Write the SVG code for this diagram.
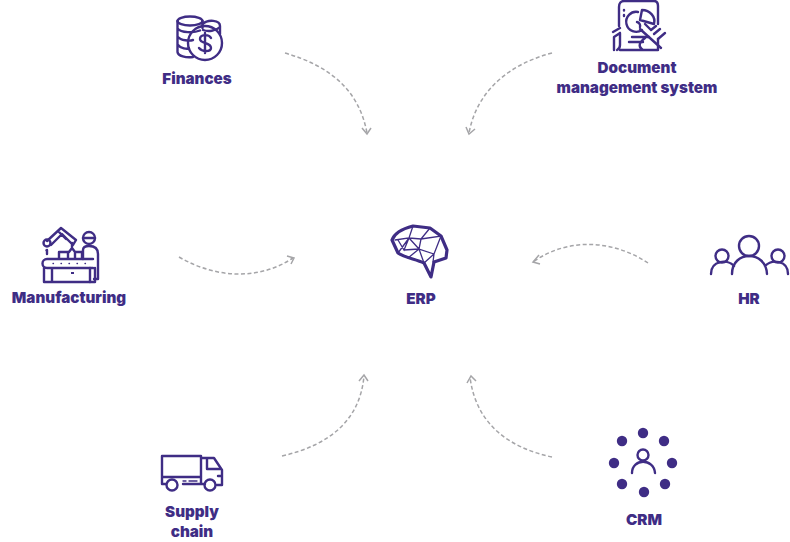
<svg xmlns="http://www.w3.org/2000/svg" width="790" height="542" viewBox="0 0 790 542">
<style>
text{font-family:"Inter","Open Sans","Liberation Sans",sans-serif;font-weight:900;font-size:15.200px;fill:#3f2d85;text-anchor:middle}
.i{fill:none;stroke:#3f2d85;stroke-width:2.400;stroke-linecap:round;stroke-linejoin:round}
.t{fill:none;stroke:#3f2d85;stroke-width:1.300;stroke-linecap:round}
.f{fill:#3f2d85}
.c{fill:none;stroke:#a5a5a8;stroke-width:1.500;stroke-dasharray:4 2.500}
.a{fill:none;stroke:#a5a5a8;stroke-width:1.500}
</style>
<g id="connectors">
<path class="c" d="M285 53C330 66 359 90 367 133"/><path class="a" d="M362 128L367 134L371 128"/>
<path class="c" d="M552 53C510 64 477 90 469 133"/><path class="a" d="M466 127L469 134L475 129"/>
<path class="c" d="M179 257C215 278 258 281 293 258"/><path class="a" d="M287 256L294 258L291 264"/>
<path class="c" d="M648 263C615 241 570 236 533 262"/><path class="a" d="M539 255L533 262L540 264"/>
<path class="c" d="M282 456C330 445 360 420 364 376"/><path class="a" d="M359 381L364 375L368 381"/>
<path class="c" d="M552 457C510 448 476 425 470 377"/><path class="a" d="M467 383L471 376L476 381"/>
</g>
<g id="finances">
<ellipse class="i" cx="190" cy="21" rx="12.500" ry="4.500"/>
<path class="i" d="M177.500 21V52C178 56 186 58 193 57M202.500 21V28M177.500 28.500C181 33 194 33 200 30.500M177.500 36.500C181 41 190 41 193 40M177.500 44.500C181 49 187 49 189 48.500"/>
<path class="i" d="M202.500 24C208 19 220 20 220 26V34M203 30C208 32 216 31 220 27"/>
<circle class="i" cx="205" cy="43" r="17"/>
<path class="i" d="M211 38C209 34 200 34 200 39C200 44 211 42 211 48C211 52 202 52 199 48M205 33V53"/>
<text x="197" y="84">Finances</text>
</g>
<g id="document-management-system">
<path class="i" d="M619 26V7C619 3 621 1 624 1H654C657 1 658 3 658 6V24M624 10V10.500M624 15V16"/>
<path class="i" d="M620 50H658M658 50V39M620 33V45C620 48 619 49 617 50M620 33L614 37V50M620 28L613 32M632 37H649M629 42H643M643 50C637 46 640 42 645 38"/>
<path class="i" d="M638 12A10 10 0 1 0 642 30M642 10L640 20L654 24C656 17 650 10 642 10ZM637 22A4 4 0 0 1 640 27M640 29L661 48M645 24L651 30M651 30L656 26M654 34L660 29M658 39L665 33"/>
<text x="637" y="73">Document</text><text x="637" y="93">management system</text>
</g>
<g id="manufacturing">
<path class="i" d="M47 241L61 228L76 240L73 245L62 234L51 245M58 231L66 239M72 243V248M69 252L72 248L75 252M47 250V254M47 259H93M47 268H93M47 259A4.500 4.500 0 0 0 47 268M44 268V282H95V268M52 282V268M58 282H94M59 259V252H68V259M75 259V252H82V259"/>
<circle class="i" cx="47" cy="243" r="3.500"/>
<circle class="i" cx="89" cy="238" r="6"/>
<path class="i" d="M83 238H95M83 259V250C83 247 85 246 89 246C95 246 98 249 98 254V279H94M90 268V282"/>
<path class="t" stroke-dasharray="0.500 7.500" stroke-width="2.400" d="M53 263.500H90M46 250V256"/>
<path class="f" d="M71 272h3v2h-3z"/>
<text x="69" y="303">Manufacturing</text>
</g>
<g id="erp">
<path fill="none" stroke="#3f2d85" stroke-width="3.200" stroke-linejoin="round" d="M392 240C395 232 405 228 413 226L430 228L441 236L447 250L446 258L434 262L431 277L424 263C416 259 405 258 398 253Z"/>
<path class="t" d="M413 226L409 238L395 240M409 238L398 253M409 238L421 239L430 228M421 239L419 249L434 254L441 236L421 239M419 249L409 238M419 249L408 258M434 254L433 262M434 254L424 263M419 249L424 263M398 240L404 250L409 238M404 250L419 249"/>
<text x="421" y="304">ERP</text>
</g>
<g id="hr">
<circle class="i" cx="749" cy="246" r="10"/><circle class="i" cx="722" cy="256" r="6.500"/><circle class="i" cx="778" cy="256" r="6.500"/>
<path class="i" d="M732 274C732 250 766 250 767 274M711 274C711 260 728 259 734 266M788 274C788 260 772 259 765 266"/>
<text x="749" y="304">HR</text>
</g>
<g id="crm">
<g class="f"><circle cx="643" cy="433" r="5.200"/><circle cx="664" cy="441" r="5.200"/><circle cx="672" cy="463" r="5.200"/><circle cx="665" cy="484" r="5.200"/><circle cx="644" cy="492" r="5.200"/><circle cx="622" cy="484" r="5.200"/><circle cx="614" cy="463" r="5.200"/><circle cx="622" cy="441" r="5.200"/></g>
<circle class="i" cx="643" cy="455" r="5.500"/>
<path class="i" d="M632 473C632 458 654 458 655 473"/>
<text x="644" y="525">CRM</text>
</g>
<g id="supply-chain">
<path class="i" d="M166 484H162V456H201V484H183M162 477H201M201 458H214L222 470V485H217M207 458V469H220M201 484H205M222 476H218"/>
<circle class="i" cx="172" cy="485" r="5.500"/><circle class="i" cx="210" cy="485" r="5.500"/>
<path class="t" stroke-width="2" d="M183 481H186M189 481H197"/>
<text x="192" y="517">Supply</text><text x="192" y="537">chain</text>
</g>
</svg>
